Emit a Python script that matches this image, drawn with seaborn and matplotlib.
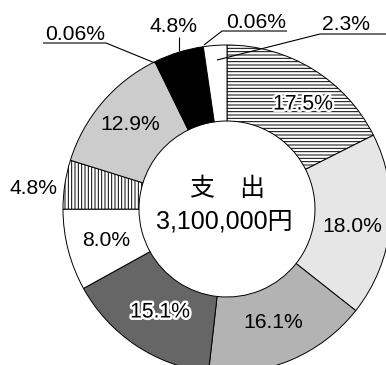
import matplotlib
matplotlib.use("Agg")
import matplotlib.pyplot as plt
import matplotlib.patheffects as pe
import seaborn as sns

sns.set_theme(style="white")
plt.rcParams['font.family'] = ['Liberation Sans', 'Noto Sans CJK JP']
plt.rcParams['hatch.linewidth'] = 0.7

# data (clockwise from 12 o'clock)
labels = ["17.5%", "18.0%", "16.1%", "15.1%", "8.0%", "4.8%", "12.9%", "0.06%", "4.8%", "0.06%", "2.3%"]
values = [17.5, 18.0, 16.1, 15.1, 8.0, 4.8, 12.9, 0.06, 4.8, 0.06, 2.3]
colors = ["#ffffff", "#e6e6e6", "#b3b3b3", "#666666", "#ffffff", "#ffffff",
          "#cccccc", "#b3b3b3", "#000000", "#b3b3b3", "#ffffff"]
hatches = ["-----", "", "", "", "", "|||||", "", "", "", "", ""]
center_title = "支\u3000出"
center_total = "3,100,000円"

W, H = 386, 365
R = 164.0
CX, CY = 227.0, 209.0

fig = plt.figure(figsize=(W / 100, H / 100), dpi=100)
ax = fig.add_axes([0, 0, 1, 1])

wedges, _ = ax.pie(values, colors=colors, startangle=90, counterclock=False,
                   radius=1.0, wedgeprops=dict(width=1 - 88 / 164, edgecolor='black', linewidth=0.7))
for w, h in zip(wedges, hatches):
    if h:
        w.set_hatch(h)

ax.set_xlim(-CX / R, (W - CX) / R)
ax.set_ylim(-(H - CY) / R, CY / R)
ax.set_aspect('equal')
ax.axis('off')


def p2d(px, py):
    return ((px - CX) / R, (CY - py) / R)


fs = 15.2
fs_center = 18
stroke = [pe.withStroke(linewidth=3.5, foreground='white')]

# label positions in pixel space
pos = {
    0: (303, 104, True),
    1: (352, 226, False),
    2: (273, 322, False),
    3: (160, 312, True),
    4: (106, 240, False),
    5: (33, 188, False),
    6: (130, 125, False),
}
for i, (px, py, st) in pos.items():
    x, y = p2d(px, py)
    t = ax.text(x, y, labels[i], ha='center', va='center', fontsize=fs, color='black')
    if st:
        t.set_path_effects(stroke)

# outside labels with leader lines
outside = [
    (7, (75, 35), [(43, 43), (106, 43), (155, 63)]),
    (8, (174, 26), [(179, 37), (179, 51)]),
    (9, (256, 23), [(287, 31), (222, 31), (204, 45)]),
    (10, (346, 25), [(386, 34), (320, 34), (217, 60)]),
]
for i, tp, line in outside:
    x, y = p2d(*tp)
    ax.text(x, y, labels[i], ha='center', va='center', fontsize=fs, color='black')
    xs = [p2d(*p)[0] for p in line]
    ys = [p2d(*p)[1] for p in line]
    ax.plot(xs, ys, color='black', linewidth=0.8, solid_capstyle='butt')

x, y = p2d(227, 189)
ax.text(x, y, center_title, ha='center', va='center', fontsize=fs_center, color='black')
x, y = p2d(224, 221)
ax.text(x, y, center_total, ha='center', va='center', fontsize=fs_center, color='black')

fig.savefig("out.png", dpi=100)
